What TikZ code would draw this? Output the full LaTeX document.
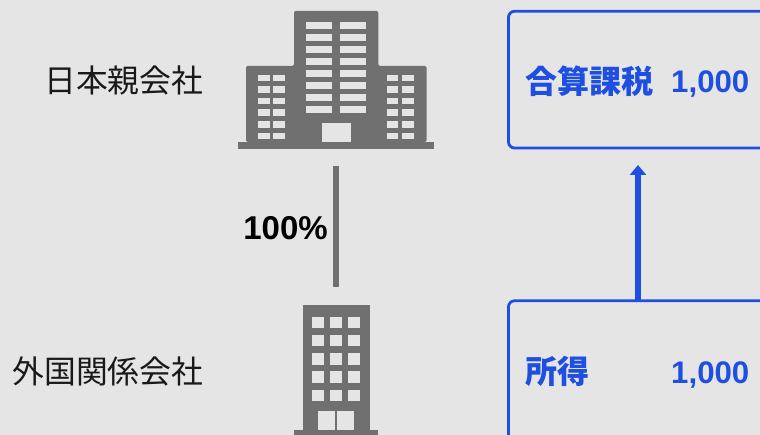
\documentclass[tikz,border=0pt]{standalone}
\usepackage{fontspec}
\setmainfont{Liberation Sans}
\newfontfamily\cjk{Noto Sans CJK JP}
\usetikzlibrary{arrows.meta}
\definecolor{bgx}{HTML}{E5E5E5}
\definecolor{bldx}{HTML}{707070}
\definecolor{blux}{HTML}{1F4FE0}
\tikzset{
    taxbox/.style={draw=blux,line width=2.8pt,rounded corners=6pt,minimum width=259pt,inner sep=0pt,outer sep=0pt},
    bldbox/.style={inner sep=0pt,outer sep=0pt,minimum width=196pt},
    name label/.style={anchor=base east,inner sep=0pt,font=\fontsize{31.8}{31.8}\selectfont\cjk,text=black!90},
    tax label/.style={anchor=base west,inner sep=0pt,font=\fontsize{32}{32}\selectfont\cjk\bfseries,text=blux},
    tax value/.style={anchor=base east,inner sep=0pt,font=\fontsize{31.2}{31.2}\selectfont\bfseries,text=blux},
}
\begin{document}
\begin{tikzpicture}[x=1pt,y=-1pt]
    \fill[bgx] (0,0) rectangle (760,435);
    \useasboundingbox (0,0) rectangle (760,435);
    \clip (0,0) rectangle (760,435);
    % parent building
    \fill[bldx,rounded corners=1.5pt] (294,66) -- (294,11) -- (378.3,11) -- (378.3,66) -- (426.7,66) -- (426.7,142) -- (246,142) -- (246,66) -- cycle;
    \fill[bldx] (238,142) rectangle (434,149);
    \foreach \r in {0,...,7} {
        \fill[bgx] (306,22+12*\r) rectangle (332,29+12*\r);
        \fill[bgx] (340.3,22+12*\r) rectangle (366.3,29+12*\r);
    }
    \foreach \r in {0,...,5} {
        \foreach \c in {258.3,273.3,386.7,402.3} {
            \fill[bgx] (\c,74.7+11.6*\r) rectangle (\c+11.7,81.3+11.6*\r);
        }
    }
    \fill[bgx] (321.7,122.7) rectangle (351.3,142);
    % subsidiary building
    \fill[bldx] (302.7,304.7) rectangle (369.7,431);
    \fill[bldx] (294,430) rectangle (378,436);
    \foreach \r in {0,...,4} {
        \foreach \c in {312.3,330.3,348} {
            \fill[bgx] (\c,316.7+18.2*\r) rectangle (\c+11.8,328.3+18.2*\r);
        }
    }
    \fill[bgx] (318.3,411) rectangle (335,430);
    \fill[bgx] (337.3,411) rectangle (354,430);
    % nodes over the buildings and the boxes
    \node[bldbox,minimum height=138pt] (parent) at (336,80) {};
    \node[bldbox,minimum height=130.3pt] (child) at (336,369.85) {};
    \node[taxbox,minimum height=136.7pt] (gassan) at (638,79.65) {};
    \node[taxbox,minimum height=160pt] (shotoku) at (638,380.8) {};
    \node[name label] (parentname) at (203.5,93) {日本親会社};
    \node[name label] (childname) at (203.5,384) {外国関係会社};
    \node[anchor=base east,inner sep=0pt,font=\fontsize{33}{33}\selectfont\bfseries] (share) at (328,239.5) {100\%};
    \node[tax label] (gassanname) at (525,94) {合算課税};
    \node[tax value] (gassanval) at (749.5,93) {1,000};
    \node[tax label] (shotokuname) at (525,383) {所得};
    \node[tax value] (shotokuval) at (749.5,383) {1,000};
    \draw[bldx,line width=5.3pt,shorten <=17pt,shorten >=18pt] (parent.south) -- (child.north);
    \draw[blux,line width=5.5pt,-{Triangle[width=16pt,length=10pt]},shorten >=17pt] (shotoku.north) -- (gassan.south);
\end{tikzpicture}
\end{document}
